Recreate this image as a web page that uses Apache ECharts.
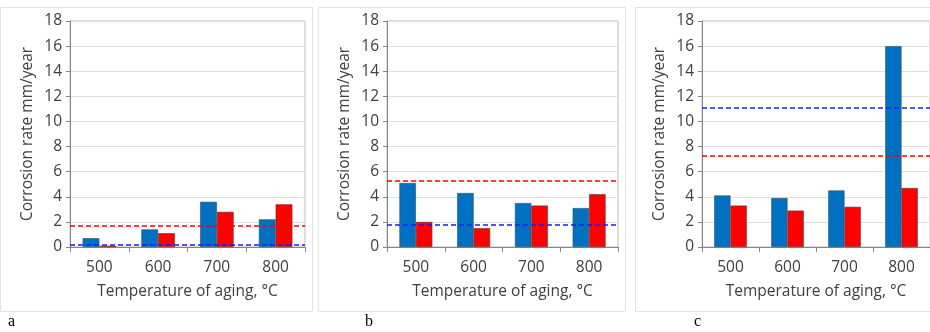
<!DOCTYPE html>
<html>
<head>
<meta charset="UTF-8">
<title>Corrosion rate</title>
<script src="https://cdn.jsdelivr.net/npm/echarts@6/dist/echarts.min.js"></script>
<style>
  body { margin: 0; padding: 0; background: #fff; }
  #main { width: 930px; height: 332px; }
</style>
</head>
<body>
<div id="main"></div>
<script>
// data
var categories = ['500', '600', '700', '800'];
var blueA = [0.7, 1.4, 3.6, 2.2];
var redA  = [0.1, 1.1, 2.8, 3.4];
var blueB = [5.1, 4.3, 3.5, 3.1];
var redB  = [2.0, 1.5, 3.3, 4.2];
var blueC = [4.1, 3.9, 4.5, 16.0];
var redC  = [3.3, 2.9, 3.2, 4.7];
// dashed reference levels
var blueLevel = [0.15, 1.8, 11.1];
var redLevel  = [1.7, 5.25, 7.3];
var panelLetters = ['a', 'b', 'c'];

var font = 'Open Sans';
var grids = [
  { left: 70, top: 21, width: 235, height: 226 },
  { left: 387, top: 21, width: 231, height: 226 },
  { left: 702, top: 21, width: 231, height: 226 }
];
var blues = [blueA, blueB, blueC];
var reds = [redA, redB, redC];

var xAxes = [], yAxes = [], series = [];
for (var i = 0; i < 3; i++) {
  grids[i].show = true;
  grids[i].borderColor = '#bfbfbf';
  grids[i].borderWidth = 1;
  xAxes.push({
    type: 'category', gridIndex: i, data: categories,
    name: 'Temperature of aging, °C', nameLocation: 'middle', nameGap: 37,
    nameTextStyle: { fontFamily: font, fontSize: 15.5, color: '#404040' },
    axisLine: { lineStyle: { color: '#868686' } },
    axisTick: { show: true, length: 5, lineStyle: { color: '#868686' } },
    axisLabel: { fontFamily: font, fontSize: 15.5, color: '#404040', margin: 13 }
  });
  yAxes.push({
    type: 'value', gridIndex: i, min: 0, max: 18, interval: 2,
    name: 'Corrosion rate mm/year', nameLocation: 'middle', nameGap: 34,
    nameTextStyle: { fontFamily: font, fontSize: 15.5, color: '#404040' },
    axisLine: { show: true, lineStyle: { color: '#868686' } },
    axisTick: { show: true, length: 4, lineStyle: { color: '#868686' } },
    axisLabel: { fontFamily: font, fontSize: 15.5, color: '#404040', margin: 8 },
    splitLine: { lineStyle: { color: '#e0e0e0' } }
  });
  series.push({
    type: 'bar', xAxisIndex: i, yAxisIndex: i, data: blues[i],
    barGap: '0%', barCategoryGap: '43%',
    itemStyle: { color: '#0070C0', borderColor: '#2f4f6f', borderWidth: 0.6 },
    markLine: {
      silent: true, symbol: 'none', label: { show: false },
      lineStyle: { color: '#1a1aff', type: [5, 3], width: 1.5 },
      data: [{ yAxis: blueLevel[i] }]
    }
  });
  series.push({
    type: 'bar', xAxisIndex: i, yAxisIndex: i, data: reds[i],
    itemStyle: { color: '#FF0000', borderColor: '#6f2f2f', borderWidth: 0.6 },
    markLine: {
      silent: true, symbol: 'none', label: { show: false },
      lineStyle: { color: '#ff0000', type: [5, 3], width: 1.5 },
      data: [{ yAxis: redLevel[i] }]
    }
  });
}

var frames = [[0, 7, 312, 304], [318, 7, 307, 304], [635, 7, 300, 304]];
var letterX = [8, 365, 694];
var graphics = [];
for (var k = 0; k < 3; k++) {
  graphics.push({
    type: 'rect', shape: { x: frames[k][0] + 0.5, y: frames[k][1] + 0.5, width: frames[k][2], height: frames[k][3] },
    style: { fill: 'none', stroke: '#e3e3e3', lineWidth: 1 }, z: -1
  });
  graphics.push({
    type: 'text', x: letterX[k], y: 314,
    style: { text: panelLetters[k], font: '16px "Liberation Serif"', fill: '#000' }
  });
}

var myChart = echarts.init(document.getElementById('main'));
myChart.setOption({
  animation: false,
  grid: grids,
  xAxis: xAxes,
  yAxis: yAxes,
  series: series,
  graphic: graphics
});
</script>
</body>
</html>
